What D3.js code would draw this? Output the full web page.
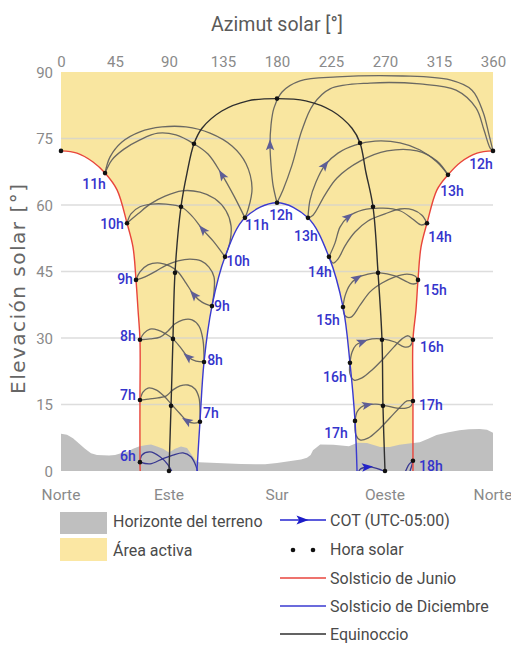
<!DOCTYPE html>
<html>
<head>
<meta charset="utf-8">
<script src="https://cdn.jsdelivr.net/npm/d3@7"></script>
<style>
  html, body { margin: 0; padding: 0; background: #fff; }
  svg { display: block; font-family: Roboto, "Noto Sans", sans-serif; }
</style>
</head>
<body>
<svg id="chart" width="511" height="650"></svg>
<script>
// ---------- axis values ----------
const azimuthTicks = [0, 45, 90, 135, 180, 225, 270, 315, 360];
const elevationTicks = [0, 15, 30, 45, 60, 75, 90];
const gridElevations = [15, 30, 45, 60, 75];
const compassNames = ["Norte", "Este", "Sur", "Oeste", "Norte"];
const compassAzimuths = [0, 90, 180, 270, 360];

// ---------- terrain horizon (azimuth °, elevation °) ----------
const horizonAz = [0,5,10,15,20,25,30,40,45,50,55,60,65,70,75,80,85,90,95,100,105,108,112,115,130,150,170,180,190,200,205,208,210,216,227,240,247,255,266,274,282,290,299,306,313,322,332,340,349,355,360];
const horizonEl = [8.4,8.2,7.4,6.2,5,4,3.6,3.5,3.6,4,4.3,5,5.5,5.8,6,5.5,5,4.2,5,5.5,5.2,4,2.5,2,1.8,1.6,1.5,1.8,2.2,2.6,3,3.6,4.7,6,5.9,5.6,6.4,6.3,5.4,5.4,5.9,6.2,6.5,7.3,8.1,8.7,9.2,9.4,9.5,9.3,8.6];

// ---------- sun paths (azimuth °, elevation °) ----------
const juneMorning = [[0,72.2],[13.3,71.7],[26.7,69.7],[36.7,67.2],[46.7,63.4],[55,55.9],[60,50.5],[62.5,43.1],[64.2,36.3],[65.8,29.6],[65.8,16],[65.8,2],[66,0]];
const juneAfternoon = [[360,72.2],[346.7,71.7],[333.3,69.7],[322.5,66.8],[313.3,63.4],[305,55.9],[300,50.5],[297.5,43.1],[295.8,36.3],[293.3,29.6],[293.3,15.8],[293.3,2.3],[293.3,0]];
const decemberPath = [[113.3,0],[115.8,11.1],[119.2,24.6],[125.8,37.2],[136.7,48.3],[153.3,57.1],[180,60.5],[205.8,57.1],[223.3,48.3],[235,37],[240.8,24.4],[245,11.3],[246.7,0]];
const equinoxPath = [[90,0],[91.7,14.7],[93.3,29.8],[95,44.7],[100,59.6],[105,67.2],[110.8,73.8],[117.5,77.3],[134,81.2],[155.8,83.5],[180,84],[204,83.5],[226,81.2],[242.5,77.3],[249.2,74],[254,67.5],[260,59.6],[264.2,44.7],[267.5,29.6],[268.3,14.7],[270,0]];

// ---------- solar-hour points ----------
const juneMorningHours = ["12h","11h","10h","9h","8h","7h","6h"];
const juneMorningDots = [[0,72.2],[36.7,67.2],[55,55.9],[62.5,43.1],[65.8,29.6],[65.8,16],[65.8,2]];
const juneAfternoonHours = ["12h","13h","14h","15h","16h","17h","18h"];
const juneAfternoonDots = [[360,72.2],[322.5,66.8],[305,55.9],[297.5,43.1],[293.3,29.6],[293.3,15.8],[293.3,2.3]];
const decemberHours = ["7h","8h","9h","10h","11h","12h","13h","14h","15h","16h","17h"];
const decemberDots = [[115.8,11.1],[119.2,24.6],[125.8,37.2],[136.7,48.3],[153.3,57.1],[180,60.5],[205.8,57.1],[223.3,48.3],[235,37],[240.8,24.4],[245,11.3]];
const equinoxDots = [[90,0],[91.7,14.7],[93.3,29.8],[95,44.7],[100,59.6],[110.8,73.8],[180,84],[249.2,74],[260,59.6],[264.2,44.7],[267.5,29.6],[268.3,14.7],[270,0]];

// ---------- analemmas at clock time COT: each branch runs from the December end to the June end ----------
// branch A: Dec → Mar → Jun (carries the arrow), branch B: Dec → Sep → Jun
const h06A = [[113.3,-4],[103,-3],[94.2,-0.9],[89.2,1.4],[82.5,3.2],[74.2,4.3],[67.5,3.6],[65.8,2]];
const h06B = [[113.5,-3],[114.2,-0.9],[112.5,1.1],[108.3,3.2],[101.7,4.1],[93.3,3.6],[84.2,2.7],[74.2,1.6],[65.8,2]];
const h07A = [[115.8,11.1],[110.8,10.8],[105,11.3],[99.2,12.9],[92.5,14.9],[85.8,16.9],[79.2,18.3],[72.5,18.7],[68.3,17.8],[65.8,16]];
const h07B = [[115.8,11.1],[115.8,13.8],[115,16.5],[111.7,18.5],[105.8,19.4],[99.2,19.2],[93.3,18.3],[87.5,16.9],[80.8,16.5],[72.5,16.2],[65.8,16]];
const h08A = [[119.2,24.6],[112.5,24.8],[105.8,25.7],[100,27.7],[93.3,29.8],[87.5,30.9],[80.8,31.8],[74.2,32],[69.2,31.1],[65.8,29.6]];
const h08B = [[119.2,24.6],[118.3,29.6],[115,32.7],[109.2,34.1],[101.7,34.1],[95,33.2],[89.2,31.6],[82.5,30.2],[74.2,29.8],[65.8,29.6]];
const h09A = [[125.8,37.2],[117.5,38.1],[110.8,39.7],[104.2,42.4],[97.5,44.9],[90.8,46.2],[82.5,46.9],[72.5,46.5],[65.8,44.9],[62.5,43.1]];
const h09B = [[125.8,37.2],[127.5,40.4],[127.5,43.8],[123.3,46],[116.7,47.4],[107.5,47.8],[97.5,47.4],[88.3,46.5],[79.2,45.1],[70,43.8],[62.5,43.1]];
const h10A = [[136.7,48.3],[126.7,51.9],[118.3,54.4],[109.2,57.5],[100,59.6],[87.5,60.2],[75.8,60.2],[65.8,59.6],[58.3,58],[55,55.9]];
const h10B = [[136.7,48.3],[140.8,51.7],[141.7,55.3],[137.5,58.7],[128.3,61.4],[115.8,62.9],[100.8,63.2],[86.7,62],[74.2,60.2],[64.2,58],[55,55.9]];
const h11A = [[153.3,57.1],[144.2,62],[134.2,66.8],[122.5,71.5],[110.8,73.8],[95.8,75.8],[80.8,76.2],[65.8,74.7],[52.5,72.6],[42.5,70.2],[36.7,67.2]];
const h11B = [[153.3,57.1],[155.8,58.9],[159.2,63.8],[154.2,69.3],[142.5,73.3],[124.2,76.2],[104.2,77.6],[84.2,77.6],[65.8,76.5],[50.8,74.2],[40.8,70.8],[36.7,67.2]];
const h12A = [[180,60.5],[176.7,64.5],[175,69],[174.2,73.5],[175,78],[177.5,81.9],[184.2,85.5],[199.2,88],[230,88.9],[285,89.1],[324.2,88.2],[342.5,85.9],[351.7,81],[356.7,75.8],[360,72.2]];
const h12B = [[180,60.5],[185,63.4],[192.5,69],[200.8,76.9],[210,82.6],[224.2,86.2],[257.5,87.5],[299.2,87.3],[329.2,85.9],[345.8,81.9],[352.5,76.9],[357.5,72.9],[360,72.2]];
const h13A = [[205.8,57.1],[207.5,61.1],[212.5,65.2],[220,69],[230.8,71.7],[245,73.5],[261.7,74.4],[282.5,74],[299.2,72.4],[313.3,69.7],[322.5,66.8]];
const h13B = [[205.8,57.1],[210,57.7],[220,62.3],[230,66.1],[249.2,69.9],[271.7,72.2],[296.7,72.2],[313.3,69.9],[322.5,66.8]];
const h14A = [[223.3,48.3],[228.3,51.4],[232.5,55],[239.2,57.3],[251.7,58.9],[268.3,59.3],[282.5,58.7],[293.3,56.8],[300,55.5],[305,55.9]];
const h14B = [[223.3,48.3],[226.7,46.9],[230.8,47.8],[236.7,50.8],[245,53.9],[255.8,56.4],[270,58],[282.5,59.1],[293.3,58.9],[300.8,57.7],[305,55.9]];
const h15A = [[235,37],[236.7,39.5],[240.8,42],[246.7,43.5],[255.8,44.4],[265.8,44.7],[278.3,44],[286.7,42.9],[292.5,42.2],[296.7,42.4],[297.5,43.1]];
const h15B = [[235,37],[236.7,35],[241.7,34.7],[249.2,37.4],[257.5,40.4],[267.5,42.4],[278.3,43.8],[288.3,44.4],[295,44],[297.5,43.1]];
const h16A = [[240.8,24.4],[242.5,26.8],[245.8,28.4],[250.8,29.1],[259.2,29.8],[267.5,29.8],[278.3,29.1],[285.8,28],[290.8,28.2],[293.3,29.6]];
const h16B = [[240.8,24.4],[240.8,21.9],[244.2,20.5],[250.8,21],[259.2,22.8],[269.2,25.5],[277.5,28],[284.2,29.8],[289.2,30.5],[293.3,29.6]];
const h17A = [[245,11.3],[246.7,13.3],[250,14.4],[255,14.9],[262.5,15.1],[270.8,14.7],[280,14.2],[287.5,14.2],[291.7,14.7],[293.3,15.8]];
const h17B = [[245,11.3],[245.8,8.1],[249.2,7],[255.8,7.4],[264.2,9.2],[274.2,12],[282.5,14.4],[288.3,15.8],[293.3,15.8]];
const h18A = [[246.5,-2],[249,0.3],[255,0.9],[263,0.6],[271,-0.3],[280,-2],[288,-1.5],[291.5,0.5],[293.3,2.3]];
const h18B = [[246.5,-2],[252,-5],[262,-5],[275,-3],[285,-1],[290,1.5],[293.3,2.3]];

// arrow locations on branch A (azimuth °, elevation °)
const arrowHours = [7,8,9,10,11,12,13,14,15,16,17,18];
const arrowAz = [105,105.8,110.8,118.3,134.2,174.2,220,239.2,246.7,250.8,255,255];
const arrowEl = [11.3,25.7,39.7,54.4,66.8,73.5,69,57.3,43.5,29.1,14.9,0.9];

// ---------- drawing ----------
const svg = d3.select("#chart");
const x = d3.scaleLinear().domain([0, 360]).range([61, 493]);
const y = d3.scaleLinear().domain([0, 90]).range([471, 72]);

const YELLOW = "#f9e6a0", TERRAIN = "#bfbfbf";
const line = d3.line().x(d => x(d[0])).y(d => y(d[1])).curve(d3.curveCatmullRom.alpha(0.5));

svg.append("defs").append("clipPath").attr("id", "plotClip")
  .append("rect").attr("x", x(0)).attr("y", y(90)).attr("width", x(360) - x(0)).attr("height", y(0) - y(90));

// active area: full sky band with the regions outside the solstice paths cut away
svg.append("rect").attr("x", x(0)).attr("y", y(90)).attr("width", x(360) - x(0)).attr("height", y(0) - y(90)).attr("fill", YELLOW);
const cut = svg.append("g").attr("fill", "#fff");
cut.append("path").attr("d", line(juneMorning) + `L${x(0)},${y(0)}Z`);
cut.append("path").attr("d", line(decemberPath) + "Z");
cut.append("path").attr("d", line(juneAfternoon) + `L${x(360)},${y(0)}Z`);

// grid lines
svg.append("g").selectAll("line").data(gridElevations).join("line")
  .attr("x1", x(0)).attr("x2", x(360)).attr("y1", d => y(d)).attr("y2", d => y(d))
  .attr("stroke", "#d2d2d2").attr("stroke-width", 1.6).attr("opacity", 0.75);

// terrain horizon
const horizon = horizonAz.map((a, i) => [a, horizonEl[i]]);
svg.append("path")
  .attr("d", d3.area().x(d => x(d[0])).y0(y(0)).y1(d => y(d[1]))(horizon))
  .attr("fill", TERRAIN);

// axes
const topAxis = svg.append("g").attr("transform", `translate(0,${y(90)})`)
  .call(d3.axisTop(x).tickValues(azimuthTicks).tickSize(0).tickPadding(5));
const leftAxis = svg.append("g").attr("transform", `translate(${x(0)},0)`)
  .call(d3.axisLeft(y).tickValues(elevationTicks).tickSize(0).tickPadding(8));
[topAxis, leftAxis].forEach(g => {
  g.select(".domain").remove();
  g.selectAll("text").attr("font-family", "Roboto").attr("font-size", 15).attr("fill", "#8a8a8a");
});
leftAxis.selectAll("text").attr("dy", "0.36em");

svg.append("g").selectAll("text").data(compassNames).join("text")
  .attr("x", (d, i) => x(compassAzimuths[i])).attr("y", 500)
  .attr("text-anchor", "middle").attr("font-size", 15.5).attr("fill", "#8a8a8a").text(d => d);

svg.append("text").attr("x", x(180)).attr("y", 31).attr("text-anchor", "middle")
  .attr("font-size", 19.5).attr("fill", "#5a5a5a").text("Azimut solar [°]");
svg.append("text").attr("transform", "translate(25,289) rotate(-90)").attr("text-anchor", "middle")
  .attr("font-family", "DejaVu Sans").attr("font-size", 20).attr("fill", "#666")
  .attr("textLength", 210).attr("lengthAdjust", "spacing").text("Elevación solar [°]");

// analemmas
const plot = svg.append("g").attr("clip-path", "url(#plotClip)");
const analemmas = [
  [6, h06A, h06B], [7, h07A, h07B], [8, h08A, h08B], [9, h09A, h09B], [10, h10A, h10B],
  [11, h11A, h11B], [12, h12A, h12B], [13, h13A, h13B], [14, h14A, h14B], [15, h15A, h15B],
  [16, h16A, h16B], [17, h17A, h17B], [18, h18A, h18B]
].map(([hour, a, b]) => ({ hour, a, b }));
const lowHour = h => h === 6 || h === 18;
const branchA = {};
analemmas.forEach(an => {
  const col = lowHour(an.hour) ? "#2a2a8c" : "#5b5b5b";
  branchA[an.hour] = plot.append("path").attr("d", line(an.a)).attr("fill", "none")
    .attr("stroke", col).attr("stroke-width", 1.3).attr("opacity", 0.9).node();
  plot.append("path").attr("d", line(an.b)).attr("fill", "none")
    .attr("stroke", col).attr("stroke-width", 1.3).attr("opacity", 0.9);
});

// solstice and equinox paths
plot.append("path").attr("d", line(equinoxPath)).attr("fill", "none").attr("stroke", "#2f2f2f").attr("stroke-width", 1.4);
plot.append("path").attr("d", line(juneMorning)).attr("fill", "none").attr("stroke", "#e8453c").attr("stroke-width", 1.4);
plot.append("path").attr("d", line(juneAfternoon)).attr("fill", "none").attr("stroke", "#e8453c").attr("stroke-width", 1.4);
plot.append("path").attr("d", line(decemberPath)).attr("fill", "none").attr("stroke", "#3a3ad0").attr("stroke-width", 1.4);

// arrows along branch A, oriented with the path
const ARROW = "M6,0L-5,-4.2L-2.6,0L-5,4.2Z";
arrowHours.forEach((h, i) => {
  const node = branchA[h];
  const px = x(arrowAz[i]), py = y(arrowEl[i]);
  const L = node.getTotalLength();
  let best = 0, bestD = Infinity;
  for (let l = 0; l <= L; l += 0.5) {
    const p = node.getPointAtLength(l);
    const d = (p.x - px) ** 2 + (p.y - py) ** 2;
    if (d < bestD) { bestD = d; best = l; }
  }
  const p0 = node.getPointAtLength(Math.max(0, best - 2));
  const p1 = node.getPointAtLength(Math.min(L, best + 2));
  const c = node.getPointAtLength(best);
  const ang = Math.atan2(p1.y - p0.y, p1.x - p0.x) * 180 / Math.PI;
  svg.append("path").attr("d", ARROW)
    .attr("transform", `translate(${c.x},${c.y}) rotate(${ang})`)
    .attr("fill", lowHour(h) ? "#2323c8" : "#5e5e96");
});

// solar-hour dots
const allDots = [].concat(juneMorningDots, juneAfternoonDots, decemberDots, equinoxDots);
svg.append("g").selectAll("circle").data(allDots).join("circle")
  .attr("cx", d => x(d[0])).attr("cy", d => y(d[1])).attr("r", 2.3).attr("fill", "#111");

// hour labels, placed beside their dots
const labelOffsetsJuneAM = [null, [-11, 11], [-15, 1], [-11, -1], [-12, -4], [-12, -5], [-12, -6]];
const labelOffsetsJunePM = [[-12, 13], [4, 16], [13, 14], [17, 10], [19, 7], [18, 4], [18, 5]];
const labelOffsetsDec = [[11, -9], [11, -2], [10, 0], [13, 4], [12, 7], [4, 12], [-2, 18], [-9, 15], [-15, 13], [-15, 14], [-19, 12]];
const labels = svg.append("g").attr("font-size", 14).attr("font-weight", 500).attr("fill", "#3434cc")
  .attr("text-anchor", "middle").attr("dominant-baseline", "central");
function addLabels(names, dots, offsets) {
  names.forEach((n, i) => {
    const o = offsets[i];
    if (!o) return;
    labels.append("text").attr("x", x(dots[i][0]) + o[0]).attr("y", y(dots[i][1]) + o[1]).text(n);
  });
}
addLabels(juneMorningHours, juneMorningDots, labelOffsetsJuneAM);
addLabels(juneAfternoonHours, juneAfternoonDots, labelOffsetsJunePM);
addLabels(decemberHours, decemberDots, labelOffsetsDec);

// ---------- legend ----------
const legend = svg.append("g").attr("font-size", 16).attr("fill", "#4a4a4a");
legend.append("rect").attr("x", 60).attr("y", 512).attr("width", 47).attr("height", 22).attr("fill", TERRAIN);
legend.append("rect").attr("x", 60).attr("y", 538).attr("width", 47).attr("height", 23).attr("fill", "#fbe7a3");
legend.append("text").attr("x", 113).attr("y", 527).text("Horizonte del terreno");
legend.append("text").attr("x", 113).attr("y", 556).text("Área activa");

const rightItems = ["COT (UTC-05:00)", "Hora solar", "Solsticio de Junio", "Solsticio de Diciembre", "Equinoccio"];
const rightBase = [526, 555, 584, 612, 640];
rightItems.forEach((t, i) => {
  legend.append("text").attr("x", 330).attr("y", rightBase[i]).text(t);
});
const ly = rightBase.map(b => b - 6);
legend.append("line").attr("x1", 280).attr("x2", 326).attr("y1", ly[0]).attr("y2", ly[0]).attr("stroke", "#2424d0").attr("stroke-width", 1.5);
legend.append("path").attr("d", ARROW).attr("transform", `translate(302,${ly[0]}) scale(1.1)`).attr("fill", "#1c1cc8");
legend.append("circle").attr("cx", 293).attr("cy", ly[1] + 1).attr("r", 2.3).attr("fill", "#111");
legend.append("circle").attr("cx", 313).attr("cy", ly[1] + 1).attr("r", 2.3).attr("fill", "#111");
legend.append("line").attr("x1", 280).attr("x2", 326).attr("y1", ly[2]).attr("y2", ly[2]).attr("stroke", "#e8453c").attr("stroke-width", 1.5);
legend.append("line").attr("x1", 280).attr("x2", 326).attr("y1", ly[3]).attr("y2", ly[3]).attr("stroke", "#3a3ad0").attr("stroke-width", 1.5);
legend.append("line").attr("x1", 280).attr("x2", 326).attr("y1", ly[4]).attr("y2", ly[4]).attr("stroke", "#2f2f2f").attr("stroke-width", 1.5);
</script>
</body>
</html>
